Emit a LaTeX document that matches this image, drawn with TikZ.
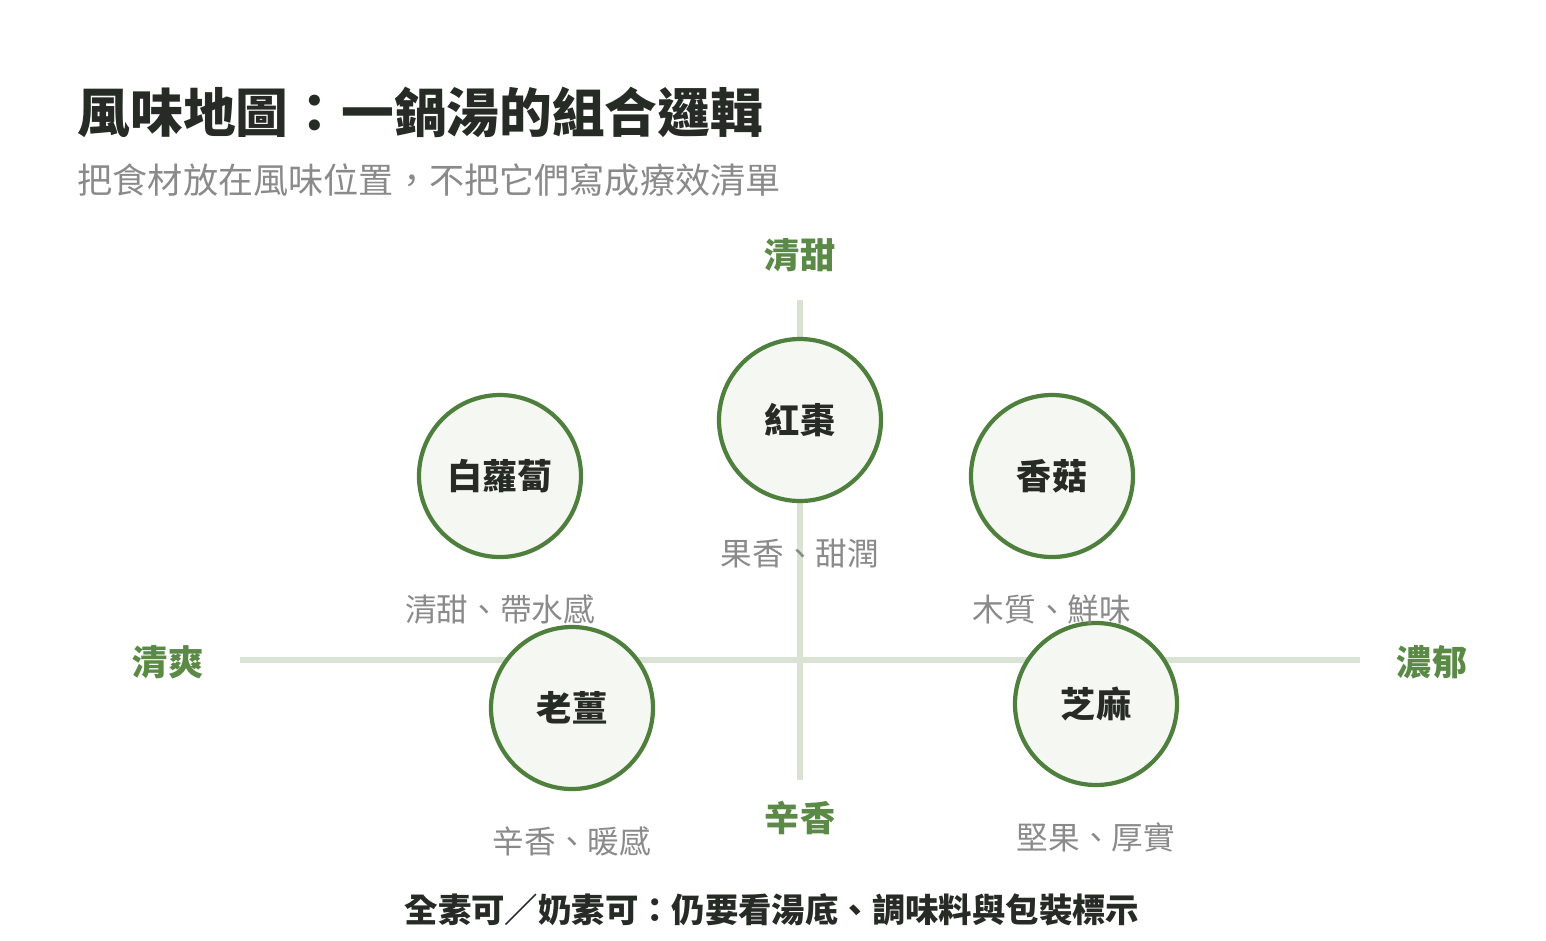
\documentclass[tikz,border=0pt]{standalone}
\usepackage{fontspec}
\setmainfont{Noto Sans CJK TC}
\usetikzlibrary{positioning}

\definecolor{inkdark}{HTML}{262B26}
\definecolor{inkgray}{HTML}{8A8A8A}
\definecolor{axisgreen}{HTML}{5A8A45}
\definecolor{ringgreen}{HTML}{4E7F3C}
\definecolor{axisline}{HTML}{D9E3D3}
\definecolor{ringfill}{HTML}{F5F8F2}

\tikzset{
  herb/.style={circle,draw=ringgreen,line width=1.2pt,fill=ringfill,
    minimum size=1.62cm,inner sep=0pt,text=inkdark,font=\fontsize{10}{12}\selectfont\bfseries},
  taste/.style={text=inkgray,font=\fontsize{9}{11}\selectfont,inner sep=0pt},
  pole/.style={text=axisgreen,font=\fontsize{10}{12}\selectfont\bfseries,inner sep=0pt},
  axis/.style={draw=axisline,line width=1.7pt}
}

\begin{document}
\begin{tikzpicture}[y=-1cm]
  \useasboundingbox (0,0) rectangle (15.46,9.40);

  % title
  \node[anchor=west,inner sep=0pt,text=inkdark,font=\fontsize{15}{18}\selectfont\bfseries]
    (title) at (0.77,1.12) {風味地圖：一鍋湯的組合邏輯};
  \node[anchor=west,inner sep=0pt,text=inkgray,font=\fontsize{10}{12}\selectfont]
    (subtitle) at (0.77,1.80) {把食材放在風味位置，不把它們寫成療效清單};

  % axes
  \coordinate (west) at (2.40,6.60);
  \coordinate (east) at (13.60,6.60);
  \coordinate (north) at (8.00,3.00);
  \coordinate (south) at (8.00,7.80);
  \draw[axis] (west) -- (east);
  \draw[axis] (north) -- (south);

  \node[pole] (sweet) at (8.00,2.55) {清甜};
  \node[pole] (spicy) at (8.00,8.18) {辛香};
  \node[pole] (light) at (1.68,6.62) {清爽};
  \node[pole] (rich) at (14.32,6.62) {濃郁};

  % ingredients
  \node[herb] (jujube) at (8.00,4.20) {紅棗};
  \node[herb] (radish) at (5.00,4.76) {白蘿蔔};
  \node[herb] (mushroom) at (10.52,4.76) {香菇};
  \node[herb] (ginger) at (5.72,7.08) {老薑};
  \node[herb] (sesame) at (10.96,7.04) {芝麻};

  \node[taste,below=0.35cm of jujube] (jujubeT) {果香、甜潤};
  \node[taste,below=0.35cm of radish] (radishT) {清甜、帶水感};
  \node[taste,below=0.35cm of mushroom] (mushroomT) {木質、鮮味};
  \node[taste,below=0.35cm of ginger] (gingerT) {辛香、暖感};
  \node[taste,below=0.35cm of sesame] (sesameT) {堅果、厚實};

  % footnote
  \node[inkdark,inner sep=0pt,font=\fontsize{9.5}{11}\selectfont\bfseries]
    (note) at (7.72,9.10) {全素可／奶素可：仍要看湯底、調味料與包裝標示};
\end{tikzpicture}
\end{document}
